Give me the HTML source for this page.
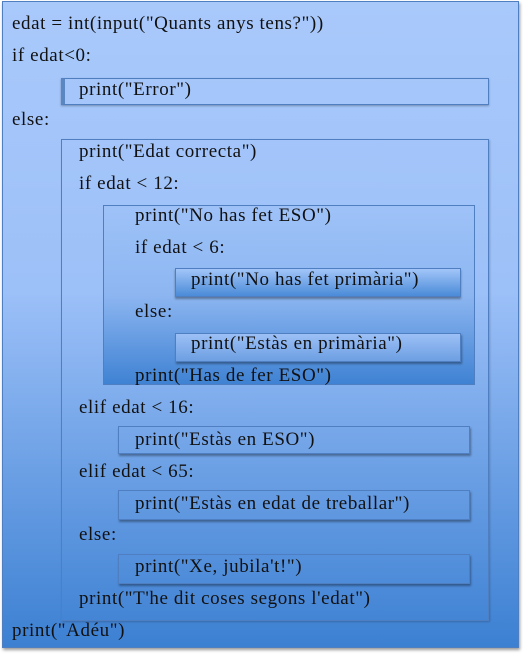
<!DOCTYPE html>
<html><head><meta charset="utf-8"><style>
body{margin:0;width:523px;height:654px;background:#fff;position:relative;overflow:hidden;font-family:"Liberation Serif",serif;font-size:19px;letter-spacing:0.6px;color:#111;}
.b{position:absolute;border:1px solid #4f7fc0;box-sizing:border-box;}
.t{position:absolute;white-space:nowrap;line-height:20px;}
</style></head><body>
<div class="b" style="left:2px;top:1px;width:517px;height:647px;background:linear-gradient(#a9c9fb,#9cc0f8 45%,#3c80d2);box-shadow:1px 2px 3px rgba(0,0,0,.4)"></div>
<div class="b" style="left:61px;top:78px;width:428px;height:27px;border-left:4px solid #5a86c2;box-shadow:0 1px 2px rgba(0,0,0,.3)"></div>
<div class="b" style="left:61px;top:139px;width:428px;height:482px;box-shadow:1px 1px 2px rgba(0,0,0,.2)"></div>
<div class="b" style="left:103px;top:205px;width:372px;height:180px;background:linear-gradient(#9ec2f8,#8db6f1 50%,#3f82d3)"></div>
<div class="b" style="left:175px;top:268px;width:286px;height:29px;background:linear-gradient(#a2c5f9,#4a8bd8);box-shadow:0 2px 2px rgba(0,0,0,.35)"></div>
<div class="b" style="left:175px;top:333px;width:286px;height:29px;background:linear-gradient(#9cc0f6,#6d9fe2);box-shadow:1px 2px 2px rgba(0,0,0,.35)"></div>
<div class="b" style="left:118px;top:426px;width:352px;height:28px;box-shadow:1px 2px 2px rgba(0,0,0,.35)"></div>
<div class="b" style="left:118px;top:490px;width:352px;height:30px;box-shadow:1px 2px 2px rgba(0,0,0,.35)"></div>
<div class="b" style="left:118px;top:554px;width:352px;height:30px;box-shadow:1px 2px 2px rgba(0,0,0,.35)"></div>

<div class="t" style="left:12px;top:14px">edat = int(input("Quants anys tens?"))</div>
<div class="t" style="left:12px;top:46px">if edat&lt;0:</div>
<div class="t" style="left:79px;top:80px">print("Error")</div>
<div class="t" style="left:12px;top:110px">else:</div>
<div class="t" style="left:79px;top:142px">print("Edat correcta")</div>
<div class="t" style="left:79px;top:174px">if edat &lt; 12:</div>
<div class="t" style="left:135px;top:206px">print("No has fet ESO")</div>
<div class="t" style="left:135px;top:238px">if edat &lt; 6:</div>
<div class="t" style="left:191px;top:270px">print("No has fet primària")</div>
<div class="t" style="left:135px;top:302px">else:</div>
<div class="t" style="left:191px;top:334px">print("Estàs en primària")</div>
<div class="t" style="left:135px;top:366px">print("Has de fer ESO")</div>
<div class="t" style="left:79px;top:398px">elif edat &lt; 16:</div>
<div class="t" style="left:135px;top:430px">print("Estàs en ESO")</div>
<div class="t" style="left:79px;top:462px">elif edat &lt; 65:</div>
<div class="t" style="left:135px;top:494px">print("Estàs en edat de treballar")</div>
<div class="t" style="left:79px;top:525px">else:</div>
<div class="t" style="left:135px;top:557px">print("Xe, jubila't!")</div>
<div class="t" style="left:79px;top:589px">print("T'he dit coses segons l'edat")</div>
<div class="t" style="left:12px;top:621px">print("Adéu")</div>
</body></html>
